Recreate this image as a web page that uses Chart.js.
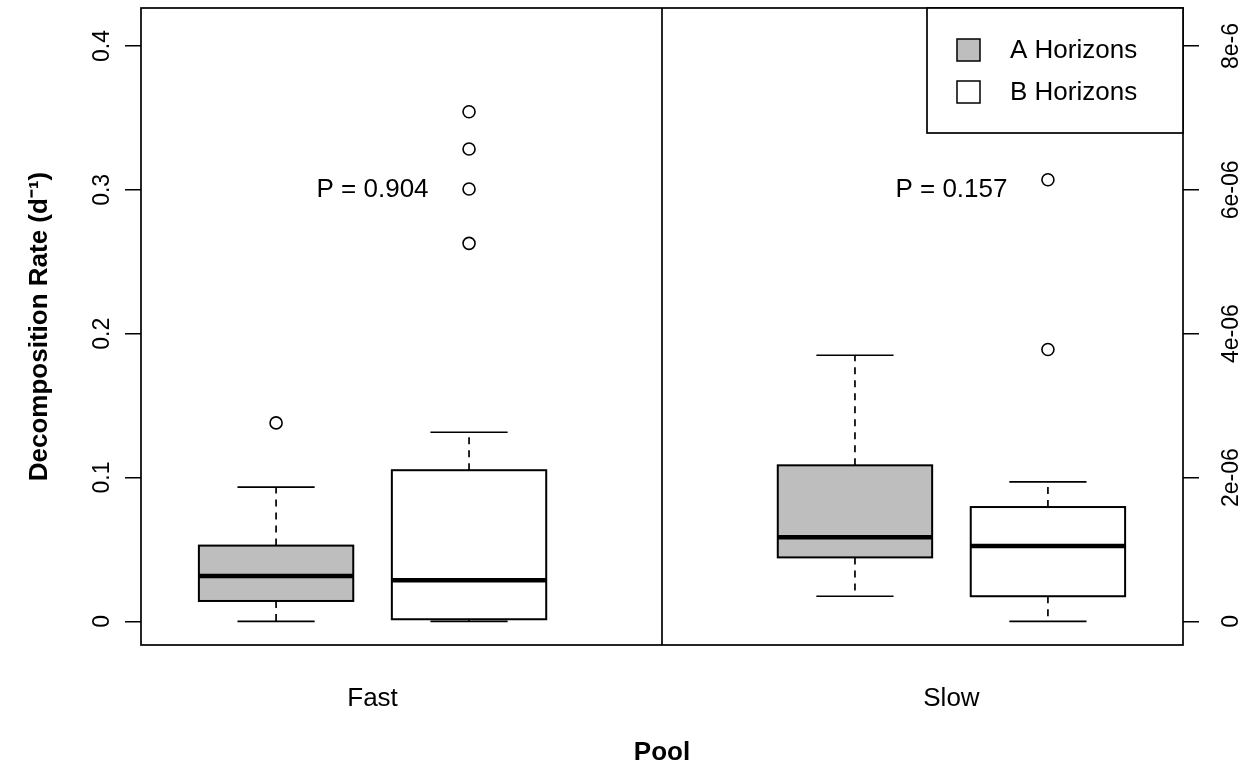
<!DOCTYPE html>
<html>
<head>
<meta charset="utf-8">
<title>Decomposition rate by pool</title>
<script src="https://cdn.jsdelivr.net/npm/chart.js@4.4.1/dist/chart.umd.min.js"></script>
<style>
  html, body { margin: 0; padding: 0; background: #fff; }
  canvas { display: block; }
</style>
</head>
<body>
<canvas id="chart" width="1250" height="768"></canvas>
<script>
// Box statistics: [lower whisker, q1, median, q3, upper whisker]
const pools = ['Fast', 'Slow'];
const poolPositions = [1.5, 4.5];
const horizons = ['A Horizons', 'B Horizons'];
const horizonColors = ['#bebebe', '#ffffff'];
const boxPositions = [1, 2, 4, 5];

// Fast pool on the left axis (d^-1), slow pool on the right axis
const fastA = [0.0, 0.0142, 0.0316, 0.0527, 0.0933];
const fastB = [0.0, 0.0015, 0.0286, 0.1051, 0.1315];
const slowA = [0.35e-6, 0.89e-6, 1.17e-6, 2.17e-6, 3.70e-6];
const slowB = [0.0, 0.35e-6, 1.05e-6, 1.59e-6, 1.94e-6];

const fastAOut = [0.138];
const fastBOut = [0.2628, 0.3006, 0.3284, 0.3543];
const slowAOut = [];
const slowBOut = [3.78e-6, 6.14e-6];

const pLabels = ['P = 0.904', 'P = 0.157'];
const pLabelY = [0.3, 0.3];

const leftTicks = [0, 0.1, 0.2, 0.3, 0.4];
const leftTickLabels = ['0', '0.1', '0.2', '0.3', '0.4'];
const rightTicks = [0, 2e-6, 4e-6, 6e-6, 8e-6];
const rightTickLabels = ['0', '2e-06', '4e-06', '6e-06', '8e-6'];

const FONT = "'Liberation Sans', Arial, Helvetica, sans-serif";
Chart.defaults.font.family = FONT;
Chart.defaults.color = '#000';

const boxes = [
  { at: boxPositions[0], stats: fastA, axis: 'y', fill: horizonColors[0] },
  { at: boxPositions[1], stats: fastB, axis: 'y', fill: horizonColors[1] },
  { at: boxPositions[2], stats: slowA, axis: 'y2', fill: horizonColors[0] },
  { at: boxPositions[3], stats: slowB, axis: 'y2', fill: horizonColors[1] }
];

const outlierSet = (values, at, axis) => ({
  type: 'scatter',
  data: values.map(v => ({ x: at, y: v })),
  yAxisID: axis,
  pointRadius: 6,
  pointHoverRadius: 6,
  pointBorderWidth: 1.6,
  borderColor: '#000',
  backgroundColor: 'rgba(0,0,0,0)'
});

// R-style boxplot: boxes, whiskers, frame, legend and tick labels
const boxplotPlugin = {
  id: 'rBoxplot',
  beforeDatasetsDraw(chart) {
    const { ctx } = chart;
    const xs = chart.scales.x;
    ctx.save();
    ctx.strokeStyle = '#000';
    boxes.forEach(b => {
      const ys = chart.scales[b.axis];
      const [lo, q1, med, q3, hi] = b.stats.map(v => ys.getPixelForValue(v));
      const xl = xs.getPixelForValue(b.at - 0.4);
      const xr = xs.getPixelForValue(b.at + 0.4);
      const xc = xs.getPixelForValue(b.at);
      const cl = xs.getPixelForValue(b.at - 0.2);
      const cr = xs.getPixelForValue(b.at + 0.2);

      // whiskers
      ctx.lineWidth = 1.7;
      ctx.setLineDash([7, 6]);
      ctx.beginPath();
      ctx.moveTo(xc, q3); ctx.lineTo(xc, hi);
      ctx.moveTo(xc, q1); ctx.lineTo(xc, lo);
      ctx.stroke();
      ctx.setLineDash([]);
      ctx.beginPath();
      ctx.moveTo(cl, hi); ctx.lineTo(cr, hi);
      ctx.moveTo(cl, lo); ctx.lineTo(cr, lo);
      ctx.stroke();

      // box
      ctx.fillStyle = b.fill;
      ctx.fillRect(xl, q3, xr - xl, q1 - q3);
      ctx.lineWidth = 2;
      ctx.strokeRect(xl, q3, xr - xl, q1 - q3);

      // median
      ctx.lineWidth = 4.5;
      ctx.beginPath();
      ctx.moveTo(xl, med); ctx.lineTo(xr, med);
      ctx.stroke();
    });
    ctx.restore();
  },
  afterDraw(chart) {
    const { ctx, chartArea: a } = chart;
    const xs = chart.scales.x;
    const yl = chart.scales.y;
    const yr = chart.scales.y2;
    ctx.save();

    // frame and pool divider
    ctx.strokeStyle = '#000';
    ctx.lineWidth = 1.7;
    ctx.strokeRect(a.left, a.top, a.right - a.left, a.bottom - a.top);
    const xd = xs.getPixelForValue(3);
    ctx.beginPath();
    ctx.moveTo(xd, a.top); ctx.lineTo(xd, a.bottom);
    ctx.stroke();

    // P values
    ctx.fillStyle = '#000';
    ctx.font = '26px ' + FONT;
    ctx.textAlign = 'center';
    ctx.textBaseline = 'middle';
    pLabels.forEach((t, i) => {
      ctx.fillText(t, xs.getPixelForValue(poolPositions[i]), yl.getPixelForValue(pLabelY[i]));
    });

    // rotated tick labels, both sides read bottom to top
    ctx.font = '23px ' + FONT;
    ctx.textBaseline = 'alphabetic';
    leftTicks.forEach((v, i) => {
      ctx.save();
      ctx.translate(a.left - 32, yl.getPixelForValue(v));
      ctx.rotate(-Math.PI / 2);
      ctx.fillText(leftTickLabels[i], 0, 0);
      ctx.restore();
    });
    rightTicks.forEach((v, i) => {
      ctx.save();
      ctx.translate(a.right + 55, yr.getPixelForValue(v));
      ctx.rotate(-Math.PI / 2);
      ctx.fillText(rightTickLabels[i], 0, 0);
      ctx.restore();
    });

    // legend, top right inside the plot
    const lw = 256, lh = 125;
    const lx = a.right - lw, ly = a.top;
    ctx.fillStyle = '#fff';
    ctx.fillRect(lx, ly, lw, lh);
    ctx.lineWidth = 1.7;
    ctx.strokeRect(lx, ly, lw, lh);
    ctx.font = '26px ' + FONT;
    ctx.textAlign = 'left';
    ctx.textBaseline = 'middle';
    horizons.forEach((h, i) => {
      const rowY = ly + 42 + i * 42;
      ctx.fillStyle = horizonColors[i];
      ctx.fillRect(lx + 30, rowY - 11, 23, 22);
      ctx.lineWidth = 1.5;
      ctx.strokeRect(lx + 30, rowY - 11, 23, 22);
      ctx.fillStyle = '#000';
      ctx.fillText(h, lx + 83, rowY + 1);
    });
    ctx.restore();
  }
};

new Chart(document.getElementById('chart'), {
  type: 'scatter',
  data: {
    datasets: [
      outlierSet(fastAOut, boxPositions[0], 'y'),
      outlierSet(fastBOut, boxPositions[1], 'y'),
      outlierSet(slowAOut, boxPositions[2], 'y2'),
      outlierSet(slowBOut, boxPositions[3], 'y2')
    ]
  },
  options: {
    responsive: false,
    animation: false,
    layout: { padding: { top: 8, left: 0, right: 0, bottom: 0 } },
    plugins: {
      legend: { display: false },
      tooltip: { enabled: false }
    },
    scales: {
      x: {
        type: 'linear',
        position: 'bottom',
        min: 0.3,
        max: 5.7,
        afterBuildTicks: (s) => { s.ticks = poolPositions.map(v => ({ value: v })); },
        afterFit: (s) => { s.height = 123; },
        ticks: {
          autoSkip: false,
          maxRotation: 0,
          padding: 38,
          font: { size: 26 },
          callback: (v, i) => pools[i]
        },
        grid: { display: false, drawTicks: false },
        border: { display: false },
        title: {
          display: true,
          text: 'Pool',
          font: { size: 26, weight: 'bold' },
          padding: { top: 0, bottom: 0 }
        }
      },
      y: {
        position: 'left',
        min: -0.0164,
        max: 0.4264,
        afterBuildTicks: (s) => { s.ticks = leftTicks.map(v => ({ value: v })); },
        afterFit: (s) => { s.width = 141; },
        ticks: { display: false },
        grid: { drawOnChartArea: false, tickLength: 16, color: '#000', lineWidth: 1.5 },
        border: { display: false },
        title: {
          display: true,
          text: 'Decomposition Rate (d\u207B\u00B9)',
          font: { size: 26, weight: 'bold' },
          padding: { top: 24, bottom: 0 }
        }
      },
      y2: {
        position: 'right',
        min: -3.28e-7,
        max: 8.528e-6,
        afterBuildTicks: (s) => { s.ticks = rightTicks.map(v => ({ value: v })); },
        afterFit: (s) => { s.width = 67; },
        ticks: { display: false },
        grid: { drawOnChartArea: false, tickLength: 16, color: '#000', lineWidth: 1.5 },
        border: { display: false }
      }
    }
  },
  plugins: [boxplotPlugin]
});
</script>
</body>
</html>
